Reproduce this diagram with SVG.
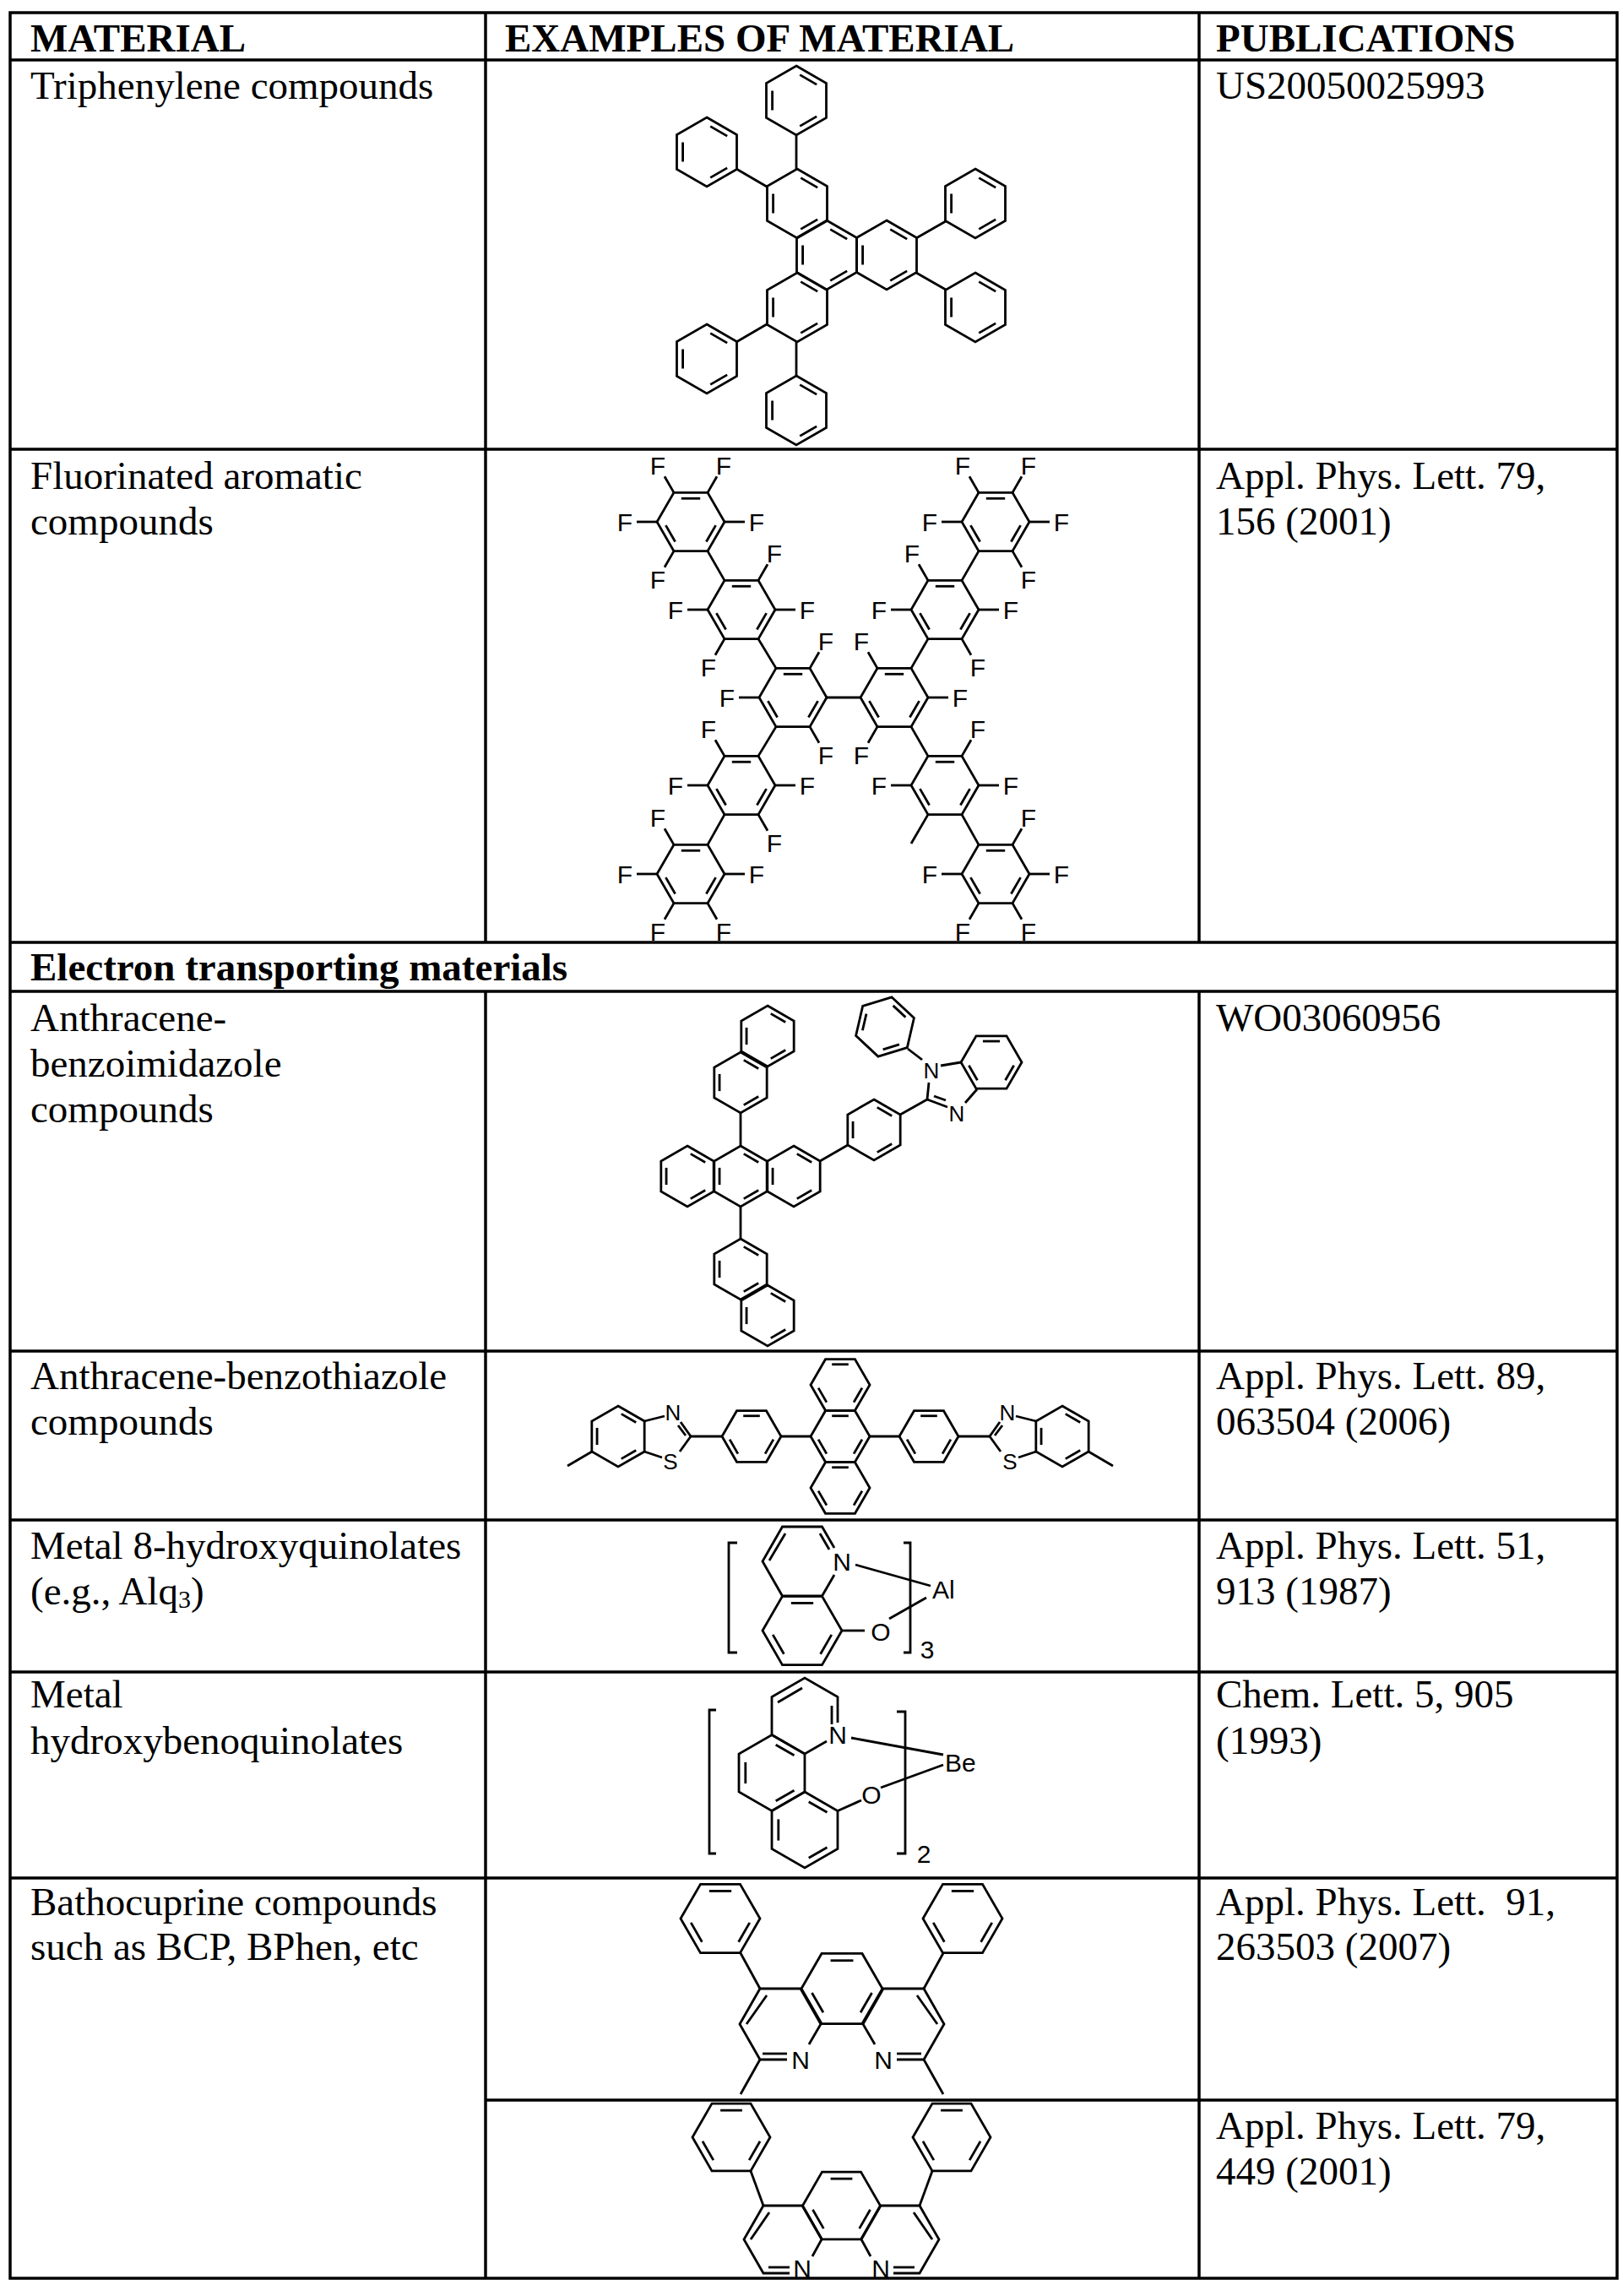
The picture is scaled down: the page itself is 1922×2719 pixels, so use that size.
<svg xmlns="http://www.w3.org/2000/svg" xmlns:xlink="http://www.w3.org/1999/xlink" width="1922" height="2719" viewBox="0 0 1922 2719">
<style>
.t{font-family:"Liberation Serif","Times New Roman",serif;font-size:47px;fill:#000}
.hd{font-weight:bold}
.grid{stroke:#000;stroke-width:3.5;fill:none}
.b{fill:none;stroke:#000;stroke-width:2.8;vector-effect:non-scaling-stroke;stroke-linejoin:miter}
.m line,.m polyline,.m polygon,.m path{fill:none;stroke:#000;stroke-width:2.8}
.c{font-family:"Liberation Sans",Arial,sans-serif;font-size:30px;fill:#000;text-anchor:middle}
.c2{font-family:"Liberation Sans",Arial,sans-serif;font-size:26px;fill:#000;text-anchor:middle}
</style>
<defs>
<g id="hp"><polygon class="b" points="0,-1 0.866,-0.5 0.866,0.5 0,1 -0.866,0.5 -0.866,-0.5"/><line class="b" x1="0.104" y1="-0.74" x2="0.589" y2="-0.46"/><line class="b" x1="0.589" y1="0.46" x2="0.104" y2="0.74"/><line class="b" x1="-0.693" y1="0.28" x2="-0.693" y2="-0.28"/></g>
<g id="hf"><polygon class="b" points="1,0 0.5,0.866 -0.5,0.866 -1,0 -0.5,-0.866 0.5,-0.866"/><line class="b" x1="0.28" y1="-0.693" x2="-0.28" y2="-0.693"/><line class="b" x1="0.74" y1="0.104" x2="0.46" y2="0.589"/><line class="b" x1="-0.46" y1="0.589" x2="-0.74" y2="0.104"/></g>
</defs>

<g id="table">
<rect class="grid" x="12" y="15" width="1903" height="2683"/>
<line class="grid" x1="12" y1="71" x2="1915" y2="71"/>
<line class="grid" x1="12" y1="532" x2="1915" y2="532"/>
<line class="grid" x1="12" y1="1116" x2="1915" y2="1116"/>
<line class="grid" x1="12" y1="1174" x2="1915" y2="1174"/>
<line class="grid" x1="12" y1="1600" x2="1915" y2="1600"/>
<line class="grid" x1="12" y1="1800" x2="1915" y2="1800"/>
<line class="grid" x1="12" y1="1980" x2="1915" y2="1980"/>
<line class="grid" x1="12" y1="2224" x2="1915" y2="2224"/>
<line class="grid" x1="575" y1="2487" x2="1915" y2="2487"/>
<line class="grid" x1="575" y1="15" x2="575" y2="1116"/>
<line class="grid" x1="1420" y1="15" x2="1420" y2="1116"/>
<line class="grid" x1="575" y1="1174" x2="575" y2="2698"/>
<line class="grid" x1="1420" y1="1174" x2="1420" y2="2698"/>
</g>

<g id="texts" class="t">
<text class="hd" x="36" y="61">MATERIAL</text>
<text class="hd" x="598" y="61">EXAMPLES OF MATERIAL</text>
<text class="hd" x="1440" y="61">PUBLICATIONS</text>
<text x="36" y="117">Triphenylene compounds</text>
<text x="1440" y="117">US20050025993</text>
<text x="36" y="579">Fluorinated aromatic</text>
<text x="36" y="633">compounds</text>
<text x="1440" y="579">Appl. Phys. Lett. 79,</text>
<text x="1440" y="633">156 (2001)</text>
<text class="hd" x="36" y="1161">Electron transporting materials</text>
<text x="36" y="1221">Anthracene-</text>
<text x="36" y="1275">benzoimidazole</text>
<text x="36" y="1329">compounds</text>
<text x="1440" y="1221">WO03060956</text>
<text x="36" y="1645">Anthracene-benzothiazole</text>
<text x="36" y="1699">compounds</text>
<text x="1440" y="1645">Appl. Phys. Lett. 89,</text>
<text x="1440" y="1699">063504 (2006)</text>
<text x="36" y="1846">Metal 8-hydroxyquinolates</text>
<text x="36" y="1900">(e.g., Alq<tspan font-size="30" dy="4">3</tspan><tspan dy="-4">)</tspan></text>
<text x="1440" y="1846">Appl. Phys. Lett. 51,</text>
<text x="1440" y="1900">913 (1987)</text>
<text x="36" y="2022">Metal</text>
<text x="36" y="2077">hydroxybenoquinolates</text>
<text x="1440" y="2022">Chem. Lett. 5, 905</text>
<text x="1440" y="2077">(1993)</text>
<text x="36" y="2268">Bathocuprine compounds</text>
<text x="36" y="2321">such as BCP, BPhen, etc</text>
<text x="1440" y="2268" xml:space="preserve">Appl. Phys. Lett.  91,</text>
<text x="1440" y="2321">263503 (2007)</text>
<text x="1440" y="2533">Appl. Phys. Lett. 79,</text>
<text x="1440" y="2587">449 (2001)</text>
</g>

<g id="triphenylene" class="m">
<use href="#hp" transform="translate(943,119) scale(41)"/>
<use href="#hp" transform="translate(837,180) scale(41)"/>
<use href="#hp" transform="translate(944,241) scale(41)"/>
<use href="#hp" transform="translate(979,302) scale(41)"/>
<use href="#hp" transform="translate(1050,302) scale(41)"/>
<use href="#hp" transform="translate(944,364) scale(41)"/>
<use href="#hp" transform="translate(837,425) scale(41)"/>
<use href="#hp" transform="translate(943,486) scale(41)"/>
<use href="#hp" transform="translate(1155,241) scale(41)"/>
<use href="#hp" transform="translate(1155,364) scale(41)"/>
<line x1="943" y1="160" x2="943" y2="200"/>
<line x1="872" y1="200" x2="908" y2="221"/>
<line x1="872" y1="405" x2="908" y2="384"/>
<line x1="943" y1="445" x2="943" y2="405"/>
<line x1="1085" y1="282" x2="1120" y2="262"/>
<line x1="1085" y1="323" x2="1120" y2="343"/>
</g>

<g id="fluorinated" class="m">
<line x1="838" y1="652.6" x2="858" y2="687.4"/>
<line x1="898" y1="756.6" x2="919" y2="791.4"/>
<line x1="919" y1="860.6" x2="898" y2="895.4"/>
<line x1="858" y1="964.6" x2="838" y2="1000.4"/>
<line x1="979" y1="826" x2="1019" y2="826"/>
<line x1="1079" y1="791.4" x2="1099" y2="756.6"/>
<line x1="1139" y1="687.4" x2="1159" y2="652.6"/>
<line x1="1079" y1="860.6" x2="1099" y2="895.4"/>
<line x1="1139" y1="964.6" x2="1159" y2="1000.4"/>
<g transform="translate(818,618)"><use href="#hf" transform="scale(40)"/>
<line x1="-20" y1="-34.6" x2="-31" y2="-53.7"/><text class="c" x="-39" y="-56.5">F</text>
<line x1="20" y1="-34.6" x2="31" y2="-53.7"/><text class="c" x="39" y="-56.5">F</text>
<line x1="-40" y1="0" x2="-64" y2="0"/><text class="c" x="-78" y="11">F</text>
<line x1="40" y1="0" x2="64" y2="0"/><text class="c" x="78" y="11">F</text>
<line x1="-20" y1="34.6" x2="-31" y2="53.7"/><text class="c" x="-39" y="78.5">F</text></g>
<g transform="translate(878,722)"><use href="#hf" transform="scale(40)"/>
<line x1="20" y1="-34.6" x2="31" y2="-53.7"/><text class="c" x="39" y="-56.5">F</text>
<line x1="-40" y1="0" x2="-64" y2="0"/><text class="c" x="-78" y="11">F</text>
<line x1="40" y1="0" x2="64" y2="0"/><text class="c" x="78" y="11">F</text>
<line x1="-20" y1="34.6" x2="-31" y2="53.7"/><text class="c" x="-39" y="78.5">F</text></g>
<g transform="translate(939,826)"><use href="#hf" transform="scale(40)"/>
<line x1="20" y1="-34.6" x2="31" y2="-53.7"/><text class="c" x="39" y="-56.5">F</text>
<line x1="-40" y1="0" x2="-64" y2="0"/><text class="c" x="-78" y="11">F</text>
<line x1="20" y1="34.6" x2="31" y2="53.7"/><text class="c" x="39" y="78.5">F</text></g>
<g transform="translate(878,930)"><use href="#hf" transform="scale(40)"/>
<line x1="-20" y1="-34.6" x2="-31" y2="-53.7"/><text class="c" x="-39" y="-56.5">F</text>
<line x1="-40" y1="0" x2="-64" y2="0"/><text class="c" x="-78" y="11">F</text>
<line x1="40" y1="0" x2="64" y2="0"/><text class="c" x="78" y="11">F</text>
<line x1="20" y1="34.6" x2="31" y2="53.7"/><text class="c" x="39" y="78.5">F</text></g>
<g transform="translate(818,1035)"><use href="#hf" transform="scale(40)"/>
<line x1="-20" y1="-34.6" x2="-31" y2="-53.7"/><text class="c" x="-39" y="-56.5">F</text>
<line x1="-40" y1="0" x2="-64" y2="0"/><text class="c" x="-78" y="11">F</text>
<line x1="40" y1="0" x2="64" y2="0"/><text class="c" x="78" y="11">F</text>
<line x1="-20" y1="34.6" x2="-31" y2="53.7"/><text class="c" x="-39" y="78.5">F</text>
<line x1="20" y1="34.6" x2="31" y2="53.7"/><text class="c" x="39" y="78.5">F</text></g>
<g transform="translate(1059,826)"><use href="#hf" transform="scale(40)"/>
<line x1="-20" y1="-34.6" x2="-31" y2="-53.7"/><text class="c" x="-39" y="-56.5">F</text>
<line x1="40" y1="0" x2="64" y2="0"/><text class="c" x="78" y="11">F</text>
<line x1="-20" y1="34.6" x2="-31" y2="53.7"/><text class="c" x="-39" y="78.5">F</text></g>
<g transform="translate(1119,722)"><use href="#hf" transform="scale(40)"/>
<line x1="-20" y1="-34.6" x2="-31" y2="-53.7"/><text class="c" x="-39" y="-56.5">F</text>
<line x1="-40" y1="0" x2="-64" y2="0"/><text class="c" x="-78" y="11">F</text>
<line x1="40" y1="0" x2="64" y2="0"/><text class="c" x="78" y="11">F</text>
<line x1="20" y1="34.6" x2="31" y2="53.7"/><text class="c" x="39" y="78.5">F</text></g>
<g transform="translate(1179,618)"><use href="#hf" transform="scale(40)"/>
<line x1="-20" y1="-34.6" x2="-31" y2="-53.7"/><text class="c" x="-39" y="-56.5">F</text>
<line x1="20" y1="-34.6" x2="31" y2="-53.7"/><text class="c" x="39" y="-56.5">F</text>
<line x1="-40" y1="0" x2="-64" y2="0"/><text class="c" x="-78" y="11">F</text>
<line x1="40" y1="0" x2="64" y2="0"/><text class="c" x="78" y="11">F</text>
<line x1="20" y1="34.6" x2="31" y2="53.7"/><text class="c" x="39" y="78.5">F</text></g>
<g transform="translate(1119,930)"><use href="#hf" transform="scale(40)"/>
<line x1="20" y1="-34.6" x2="31" y2="-53.7"/><text class="c" x="39" y="-56.5">F</text>
<line x1="-40" y1="0" x2="-64" y2="0"/><text class="c" x="-78" y="11">F</text>
<line x1="40" y1="0" x2="64" y2="0"/><text class="c" x="78" y="11">F</text>
<line x1="-20" y1="34.6" x2="-40" y2="69"/></g>
<g transform="translate(1179,1035)"><use href="#hf" transform="scale(40)"/>
<line x1="20" y1="-34.6" x2="31" y2="-53.7"/><text class="c" x="39" y="-56.5">F</text>
<line x1="-40" y1="0" x2="-64" y2="0"/><text class="c" x="-78" y="11">F</text>
<line x1="40" y1="0" x2="64" y2="0"/><text class="c" x="78" y="11">F</text>
<line x1="-20" y1="34.6" x2="-31" y2="53.7"/><text class="c" x="-39" y="78.5">F</text>
<line x1="20" y1="34.6" x2="31" y2="53.7"/><text class="c" x="39" y="78.5">F</text></g>
</g>

<g id="anthracene-benzoimidazole" class="m">
<use href="#hp" transform="translate(909,1227) scale(36)"/>
<use href="#hp" transform="translate(877,1282) scale(36)"/>
<line x1="877" y1="1318" x2="877" y2="1357"/>
<use href="#hp" transform="translate(814,1393) scale(36)"/>
<use href="#hp" transform="translate(877,1393) scale(36)"/>
<use href="#hp" transform="translate(940,1393) scale(36)"/>
<line x1="877" y1="1429" x2="877" y2="1467"/>
<use href="#hp" transform="translate(877,1503) scale(36)"/>
<use href="#hp" transform="translate(909,1558) scale(36)"/>
<line x1="971" y1="1375" x2="1004" y2="1356"/>
<use href="#hp" transform="translate(1035,1338) scale(36)"/>
<line x1="1066" y1="1320" x2="1098" y2="1302"/>
<line x1="1098" y1="1302" x2="1100" y2="1282"/>
<line x1="1114" y1="1262" x2="1138" y2="1258"/>
<line x1="1157" y1="1290" x2="1143" y2="1306"/>
<line x1="1122" y1="1311" x2="1098" y2="1302"/>
<line x1="1120" y1="1303" x2="1106" y2="1298"/>
<use href="#hf" transform="translate(1174,1258) scale(36)"/>
<line x1="1075" y1="1242" x2="1092" y2="1255"/>
<use href="#hp" transform="translate(1048,1216) rotate(13) scale(36)"/>
<text class="c2" x="1103" y="1277">N</text>
<text class="c2" x="1133" y="1328">N</text>
</g>

<g id="anthracene-benzothiazole" class="m">
<use href="#hf" transform="translate(995,1640) scale(35)"/>
<use href="#hf" transform="translate(995,1701) scale(35)"/>
<use href="#hf" transform="translate(995,1762) scale(35)"/>
<use href="#hf" transform="translate(890,1701) scale(35)"/>
<use href="#hf" transform="translate(1100,1701) scale(35)"/>
<line x1="925" y1="1701" x2="960" y2="1701"/>
<line x1="1030" y1="1701" x2="1065" y2="1701"/>
<line x1="855" y1="1701" x2="818" y2="1701"/>
<line x1="1135" y1="1701" x2="1172" y2="1701"/>
<use href="#hp" transform="translate(732,1701) scale(36)"/>
<use href="#hp" transform="translate(1258,1701) scale(36)"/>
<line x1="818" y1="1701" x2="806" y2="1684"/><line x1="812" y1="1700" x2="803" y2="1688"/>
<line x1="787" y1="1677" x2="763" y2="1683"/>
<line x1="818" y1="1701" x2="805" y2="1719"/>
<line x1="784" y1="1726" x2="763" y2="1719"/>
<line x1="701" y1="1719" x2="672" y2="1736"/>
<line x1="1172" y1="1701" x2="1184" y2="1684"/><line x1="1178" y1="1700" x2="1187" y2="1688"/>
<line x1="1203" y1="1677" x2="1227" y2="1683"/>
<line x1="1172" y1="1701" x2="1185" y2="1719"/>
<line x1="1206" y1="1726" x2="1227" y2="1719"/>
<line x1="1289" y1="1719" x2="1318" y2="1736"/>
<text class="c2" x="797" y="1682">N</text>
<text class="c2" x="794" y="1740">S</text>
<text class="c2" x="1193" y="1682">N</text>
<text class="c2" x="1196" y="1740">S</text>
</g>

<g id="alq3" class="m">
<polyline points="988,1833 973.5,1808 926.5,1808 903,1849 926.5,1890 973.5,1890 988,1865"/>
<line x1="930" y1="1816" x2="911" y2="1848"/><line x1="971" y1="1816" x2="982" y2="1835"/>
<use href="#hf" transform="translate(950,1931) scale(47)"/>
<line x1="997" y1="1931" x2="1024" y2="1931"/>
<line x1="1013" y1="1853" x2="1102" y2="1878"/>
<line x1="1053" y1="1917" x2="1097" y2="1892"/>
<polyline points="873,1827 863,1827 863,1957 873,1957"/>
<polyline points="1070,1827 1078,1827 1078,1957 1070,1957"/>
<text class="c" x="997" y="1860">N</text>
<text class="c" x="1043" y="1943">O</text>
<text class="c" x="1104" y="1893" text-anchor="start" style="text-anchor:start">Al</text>
<text class="c" x="1098" y="1964">3</text>
</g>

<g id="be" class="m">
<polyline points="992,2040 992,2009.5 953,1987 914,2009.5 914,2054.5 953,2077 979,2062"/>
<line x1="985" y1="2020" x2="985" y2="2042"/><line x1="921" y1="2016" x2="950" y2="1999"/>
<use href="#hp" transform="translate(914,2099.5) scale(45)"/>
<use href="#hp" transform="translate(953,2167) scale(45)"/>
<line x1="992" y1="2144.5" x2="1020" y2="2132"/>
<line x1="1008" y1="2058" x2="1117" y2="2078"/>
<line x1="1043" y1="2117" x2="1117" y2="2090"/>
<polyline points="848,2025 840,2025 840,2195 848,2195"/>
<polyline points="1062,2027 1072,2027 1072,2195 1062,2195"/>
<text class="c" x="992" y="2065">N</text>
<text class="c" x="1032" y="2136">O</text>
<text class="c" x="1119" y="2098" style="text-anchor:start">Be</text>
<text class="c" x="1094" y="2206">2</text>
</g>

<g id="bcp" class="m">
<use href="#hf" transform="translate(853,2272) scale(47)"/>
<use href="#hf" transform="translate(1140,2272) scale(47)"/>
<use href="#hf" transform="translate(997,2355) scale(48)"/>
<polyline points="958,2421 972,2397 948,2355 900,2355 876,2397 900,2439 932,2439"/>
<line x1="903" y1="2432" x2="932" y2="2432"/><line x1="908" y1="2363" x2="884" y2="2397"/>
<polyline points="1036,2421 1022,2397 1046,2355 1094,2355 1118,2397 1094,2439 1062,2439"/>
<line x1="1062" y1="2432" x2="1091" y2="2432"/><line x1="1086" y1="2363" x2="1110" y2="2397"/>
<line x1="877" y1="2313" x2="900" y2="2355"/>
<line x1="1117" y1="2313" x2="1094" y2="2355"/>
<line x1="900" y1="2439" x2="877" y2="2480"/>
<line x1="1094" y1="2439" x2="1117" y2="2480"/>
<text class="c" x="948" y="2450">N</text>
<text class="c" x="1046" y="2450">N</text>
</g>

<g id="bphen" class="m">
<use href="#hf" transform="translate(866,2531) scale(46)"/>
<use href="#hf" transform="translate(1127,2531) scale(46)"/>
<use href="#hf" transform="translate(996.5,2612) scale(46)"/>
<polyline points="962,2672 973,2652 950,2612 904,2612 881,2652 904,2692 935,2692"/>
<line x1="910" y1="2685" x2="935" y2="2685"/><line x1="911" y1="2620" x2="889" y2="2652"/>
<polyline points="1031,2672 1020,2652 1043,2612 1089,2612 1112,2652 1089,2692 1058,2692"/>
<line x1="1058" y1="2685" x2="1083" y2="2685"/><line x1="1082" y1="2620" x2="1104" y2="2652"/>
<line x1="889" y1="2571" x2="904" y2="2612"/>
<line x1="1104" y1="2571" x2="1089" y2="2612"/>
<text class="c" x="950" y="2697">N</text>
<text class="c" x="1043" y="2697">N</text>
</g>
</svg>
